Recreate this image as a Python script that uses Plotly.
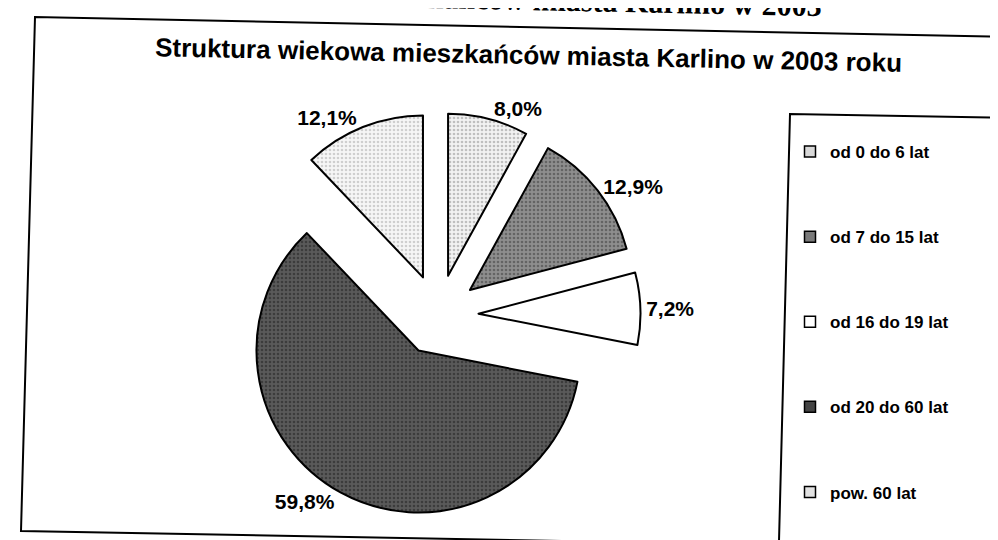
import plotly.graph_objects as go

# ---- data ----
categories = ["od 0 do 6 lat", "od 7 do 15 lat", "od 16 do 19 lat", "od 20 do 60 lat", "pow. 60 lat"]
shares = [8.0, 12.9, 7.2, 59.8, 12.1]
title_text = "Struktura wiekowa mieszkańców miasta Karlino w 2003 roku"
cut_title_text = "w mieszkańców miasta Karlino w 2003"

# ---- styling ----
W, H = 998, 540
base_colors = ["#d8d8d8", "#7a7a7a", "#ffffff", "#444444", "#e2e2e2"]
pat_shapes = [".", ".", "", ".", "."]
pat_fg = ["#8c8c8c", "#3a3a3a", "#ffffff", "#1e1e1e", "#a8a8a8"]
pat_bg = ["#f2f2f2", "#8e8e8e", "#ffffff", "#5a5a5a", "#f6f6f6"]
pull_amt = [0.25, 0.25, 0.25, 0.25, 0.25]


def px_x(px):
    return px / W


def px_y(py):
    return 1 - py / H


# pie domain: centre (430, 307), radius ~162 with pull 0.25
cx, cy, half = 430, 307, 202.5

fig = go.Figure()
fig.add_trace(go.Pie(
    labels=categories,
    values=shares,
    sort=False,
    direction="clockwise",
    rotation=0,
    pull=pull_amt,
    marker=dict(
        colors=base_colors,
        line=dict(color="black", width=2),
        pattern=dict(shape=pat_shapes, fgcolor=pat_fg, bgcolor=pat_bg,
                     size=4, solidity=0.35, fillmode="overlay"),
    ),
    texttemplate="%{percent:.1%}",
    textposition="outside",
    textfont=dict(family="Liberation Sans, Arial", size=21, color="black", weight="bold"),
    showlegend=False,
    hoverinfo="label+percent",
    domain=dict(x=[px_x(cx - half), px_x(cx + half)],
                y=[px_y(cy + half), px_y(cy - half)]),
))

# legend entries (one group each so they can be spaced like the original)
for i, name in enumerate(categories):
    fig.add_trace(go.Scatter(
        x=[None], y=[None], mode="markers", name=name,
        legendgroup=f"g{i}",
        marker=dict(symbol="square", size=11, color=base_colors[i],
                    line=dict(color="black", width=1.5)),
    ))

shapes = [
    # outer chart frame (scan is slightly rotated)
    dict(type="path", xref="paper", yref="paper",
         path=(f"M {px_x(1010)},{px_y(29.2)} L {px_x(27)},{px_y(9)} "
               f"L {px_x(13)},{px_y(523)} L {px_x(1010)},{px_y(541.5)}"),
         line=dict(color="black", width=2)),
    # legend frame
    dict(type="path", xref="paper", yref="paper",
         path=(f"M {px_x(1010)},{px_y(110)} L {px_x(782)},{px_y(106)} "
               f"L {px_x(771)},{px_y(533)} L {px_x(1010)},{px_y(537)}"),
         line=dict(color="black", width=2)),
]

annotations = [
    dict(text=title_text, x=px_x(520), y=px_y(47), xref="paper", yref="paper",
         showarrow=False, textangle=1.2, xanchor="center", yanchor="middle",
         font=dict(family="Liberation Sans, Arial", size=26, color="black", weight="bold")),
    dict(text=cut_title_text, x=px_x(566), y=px_y(16), xref="paper", yref="paper",
         showarrow=False, textangle=1.2, xanchor="center", yanchor="bottom",
         font=dict(family="Liberation Serif, Times New Roman", size=30, color="black", weight="bold")),
]

fig.update_layout(
    width=W, height=H,
    margin=dict(l=0, r=0, t=0, b=0, autoexpand=False),
    paper_bgcolor="white",
    plot_bgcolor="white",
    separators=", ",
    xaxis=dict(visible=False),
    yaxis=dict(visible=False),
    shapes=shapes,
    annotations=annotations,
    legend=dict(
        x=px_x(782), y=px_y(126), xanchor="left", yanchor="top",
        bgcolor="rgba(0,0,0,0)", borderwidth=0,
        tracegroupgap=60, itemsizing="trace",
        font=dict(family="Liberation Sans, Arial", size=17, color="black", weight="bold"),
    ),
)

fig.write_html("out.html")
